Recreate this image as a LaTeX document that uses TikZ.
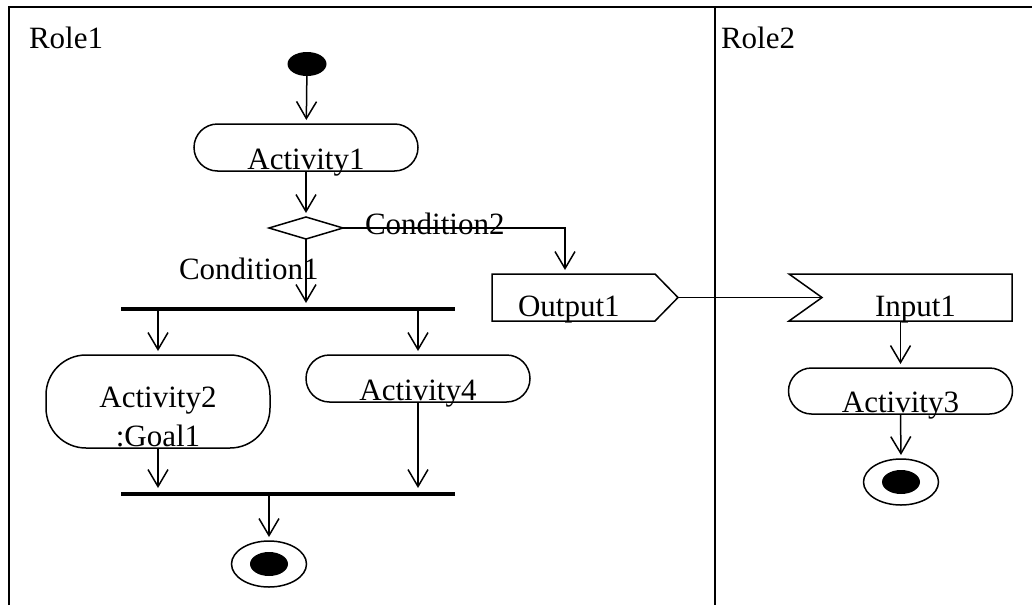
\documentclass[tikz,border=0pt]{standalone}
\usepackage{fontspec}
\setmainfont{Liberation Serif}
\usetikzlibrary{shapes.geometric,shapes.misc,arrows.meta}
\begin{document}
\begin{tikzpicture}[x=1pt,y=-1pt,
  every node/.style={inner sep=0pt, outer sep=0pt},
  lbl/.style={font=\fontsize{31}{36}\selectfont},
  act/.style={draw, line width=1.5pt, rounded rectangle, minimum width=224pt, minimum height=47pt},
  flow/.style={line width=1.5pt, shorten >=4pt, -{Straight Barb[length=17pt,width=20pt,line width=1.5pt]}},
  plain/.style={line width=1.5pt},
  bar/.style={fill=black, rectangle, minimum width=334pt, minimum height=4pt},
  lane/.style={line width=2.2pt}
]
\useasboundingbox (0,0) rectangle (1032,605);
% swimlanes
\draw[lane] (9,605) -- (9,7) -- (1032,7);
\draw[lane] (715,7) -- (715,605);
\node[lbl, anchor=base west] (role1) at (29,48) {Role1};
\node[lbl, anchor=base west] (role2) at (721,48) {Role2};
% Role1
\node[ellipse, fill=black, minimum width=39pt, minimum height=24pt] (start) at (307,64) {};
\node[act] (a1) at (306,147.5) {};
\node[lbl, anchor=base] (a1t) at (306,169) {Activity1};
\node[diamond, draw, line width=1.5pt, minimum width=74pt, minimum height=22pt] (dec) at (306,228) {};
\node[lbl, anchor=base west] (c2) at (365,234) {Condition2};
\node[lbl, anchor=base west] (c1) at (179,279) {Condition1};
\node[bar] (bar1) at (288,309) {};
\node[draw, line width=1.5pt, rectangle, rounded corners=40pt, minimum width=224pt, minimum height=93pt] (a2) at (158,401.5) {};
\node[lbl, anchor=base] (a2t) at (158,407) {Activity2};
\node[lbl, anchor=base] (a2g) at (158,446) {:Goal1};
\node[act] (a4) at (418,378.5) {};
\node[lbl, anchor=base] (a4t) at (418,400) {Activity4};
\node[bar] (bar2) at (288,494) {};
\node[ellipse, draw, line width=1.5pt, minimum width=75pt, minimum height=46pt] (end1) at (269,564) {};
\node[ellipse, fill=black, minimum width=38pt, minimum height=24pt] (end1c) at (269,564) {};
% Output1
\node[minimum width=186pt, minimum height=47pt] (out1) at (585,297.5) {};
\draw[plain] (out1.north west) -- ([xshift=-23pt]out1.north east) -- (out1.east) -- ([xshift=-23pt]out1.south east) -- (out1.south west) -- cycle;
\node[lbl, anchor=base west] (out1t) at (518,316) {Output1};
% Role2
\node[minimum width=223pt, minimum height=47pt] (in1) at (900.5,297.5) {};
\draw[plain] (in1.north west) -- (in1.north east) -- (in1.south east) -- (in1.south west) -- ([xshift=33pt]in1.west) -- cycle;
\node[lbl, anchor=base west] (in1t) at (875,316) {Input1};
\node[act, minimum height=46pt] (a3) at (900.5,391) {};
\node[lbl, anchor=base] (a3t) at (900.5,412) {Activity3};
\node[ellipse, draw, line width=1.5pt, minimum width=75pt, minimum height=46pt] (end2) at (901,482) {};
\node[ellipse, fill=black, minimum width=38pt, minimum height=24pt] (end2c) at (901,482) {};
% connectors
\draw[flow] (start) -- (a1);
\draw[flow] (a1) -- (dec);
\draw[flow] (dec.south) -- (dec.south |- bar1.north);
\draw[flow] (dec.east) -| ([xshift=-20pt]out1.north);
\draw[flow] (bar1.south -| a2.north) -- (a2.north);
\draw[flow] (bar1.south -| a4.north) -- (a4.north);
\draw[flow] (a2.south) -- (a2.south |- bar2.north);
\draw[flow] (a4.south) -- (a4.south |- bar2.north);
\draw[flow] (bar2.south -| end1.north) -- (end1.north);
\draw[plain] (out1.east) -- ([xshift=33pt]in1.west);
\draw[flow] (in1.south) -- (a3.north);
\draw[flow] (a3.south) -- (end2.north);
\end{tikzpicture}
\end{document}
